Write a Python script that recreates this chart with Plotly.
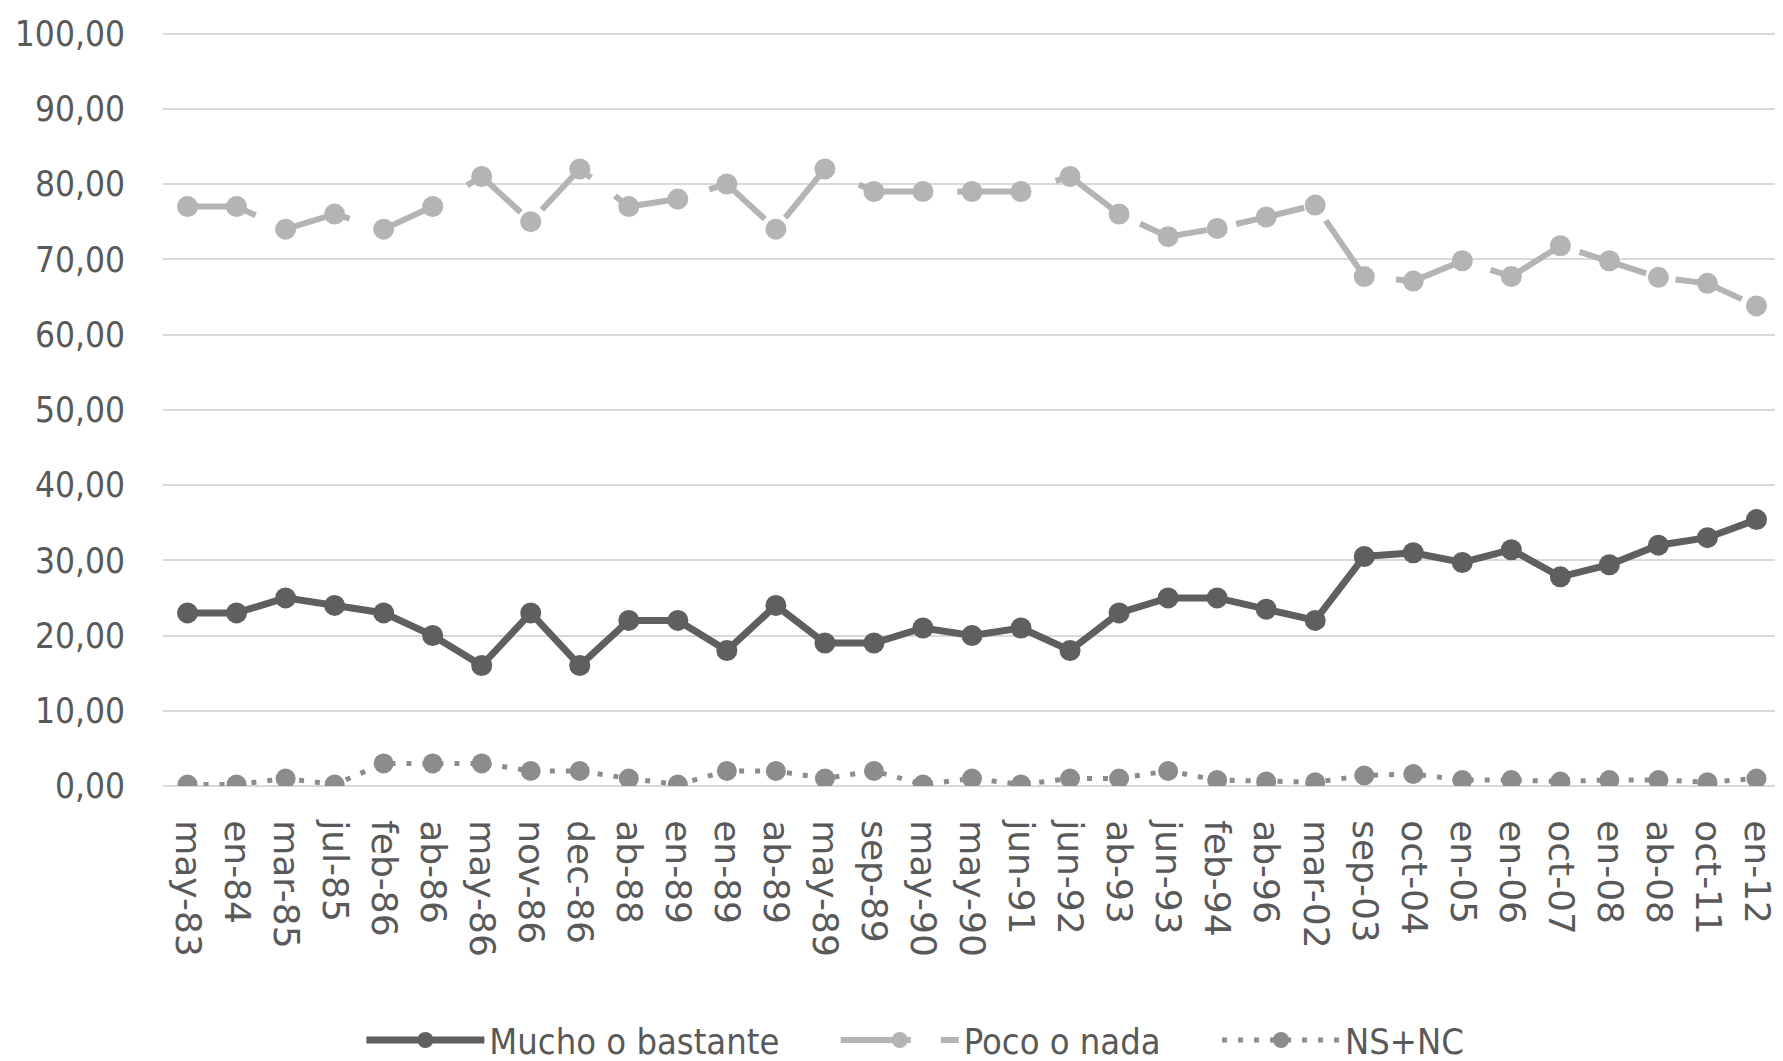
import plotly.graph_objects as go

categories = ["may-83", "en-84", "mar-85", "jul-85", "feb-86", "ab-86", "may-86", "nov-86",
              "dec-86", "ab-88", "en-89", "en-89", "ab-89", "may-89", "sep-89", "may-90",
              "may-90", "jun-91", "jun-92", "ab-93", "jun-93", "feb-94", "ab-96", "mar-02",
              "sep-03", "oct-04", "en-05", "en-06", "oct-07", "en-08", "ab-08", "oct-11", "en-12"]

mucho = [23, 23, 25, 24, 23, 20, 16, 23, 16, 22, 22, 18, 24, 19, 19, 21, 20, 21, 18, 23,
         25, 25, 23.5, 22, 30.5, 31, 29.7, 31.4, 27.8, 29.4, 32, 33, 35.4]
poco = [77, 77, 74, 76, 74, 77, 81, 75, 82, 77, 78, 80, 74, 82, 79, 79, 79, 79, 81, 76,
        73, 74.1, 75.6, 77.2, 67.7, 67.1, 69.8, 67.7, 71.8, 69.8, 67.6, 66.8, 63.8]
nsnc = [0.2, 0.2, 1, 0.2, 3, 3, 3, 2, 2, 1, 0.2, 2, 2, 1, 2, 0.2, 1, 0.2, 1, 1,
        2, 0.8, 0.6, 0.5, 1.4, 1.6, 0.8, 0.8, 0.6, 0.8, 0.8, 0.5, 1]

series_names = ["Mucho o bastante", "Poco o nada", "NS+NC"]

y_ticks = [0, 10, 20, 30, 40, 50, 60, 70, 80, 90, 100]

x = list(range(len(categories)))

FONT = "DejaVu Sans Condensed, Liberation Sans Narrow, sans-serif"
TXT = "#595959"
PAD = "\u00a0" * 5

fig = go.Figure()
fig.add_trace(go.Scatter(
    x=x, y=mucho, name=series_names[0] + PAD, mode="lines+markers",
    line=dict(color="#5f5f5f", width=7),
    marker=dict(color="#5f5f5f", size=21, symbol="circle"),
))
fig.add_trace(go.Scatter(
    x=x, y=poco, name=series_names[1] + PAD, mode="lines+markers",
    line=dict(color="#b4b4b4", width=6, dash="70px,30px"),
    marker=dict(color="#b4b4b4", size=21, symbol="circle"),
))
fig.add_trace(go.Scatter(
    x=x, y=nsnc, name=series_names[2], mode="lines+markers",
    line=dict(color="#8c8c8c", width=5, dash="5px,11px"),
    marker=dict(color="#8c8c8c", size=20, symbol="circle"),
))

fig.update_layout(
    width=1775, height=1053,
    margin=dict(l=155, r=2, t=24, b=275, autoexpand=False),
    paper_bgcolor="white", plot_bgcolor="white",
    separators=",.",
    showlegend=True,
    legend=dict(orientation="h", x=0.465, xanchor="center", y=-0.337, yanchor="middle",
                font=dict(family=FONT, size=36, color=TXT),
                itemwidth=118, tracegroupgap=0, bgcolor="rgba(0,0,0,0)"),
    xaxis=dict(
        range=[-0.5, len(categories) - 0.5],
        tickmode="array", tickvals=x, ticktext=categories,
        tickangle=90,
        tickfont=dict(family="DejaVu Sans", size=36, color=TXT),
        ticks="outside", ticklen=26, tickcolor="rgba(0,0,0,0)",
        showgrid=False, zeroline=False, showline=False, automargin=False,
    ),
    yaxis=dict(
        range=[0, 100.2],
        tickmode="array", tickvals=y_ticks,
        tickformat=".2f",
        tickfont=dict(family=FONT, size=35, color=TXT),
        ticks="outside", ticklen=30, tickcolor="rgba(0,0,0,0)",
        showgrid=True, gridcolor="#d9d9d9", gridwidth=2,
        zeroline=True, zerolinecolor="#d9d9d9", zerolinewidth=2,
        showline=False, automargin=False,
    ),
)

fig.write_html("out.html")
